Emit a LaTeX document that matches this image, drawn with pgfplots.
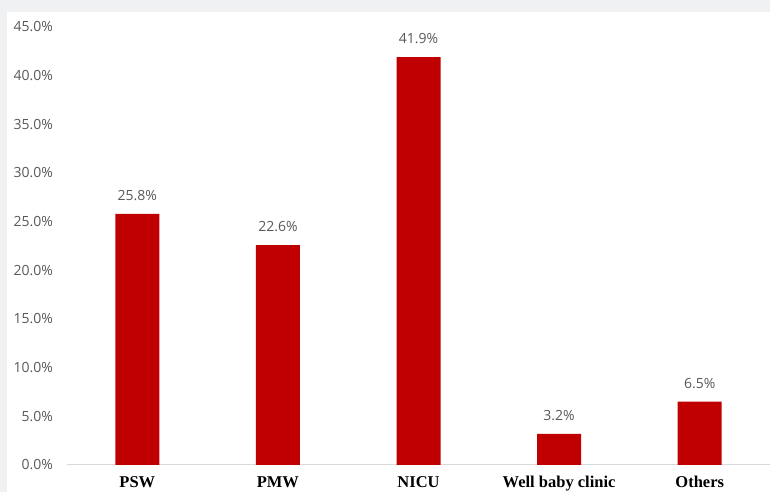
\documentclass[border=0pt]{standalone}
\usepackage{pgfplots}
\pgfplotsset{compat=1.18}
\usepackage{fontspec}
\setmainfont{Open Sans}
\newfontfamily\serifb{Liberation Serif}
\definecolor{barred}{HTML}{C00000}
\definecolor{txtgray}{HTML}{595959}
\definecolor{bggray}{HTML}{F0F1F3}
\definecolor{axgray}{HTML}{D9D9D9}
\begin{document}
\begin{tikzpicture}[x=1pt,y=1pt]
\useasboundingbox (0,0) rectangle (770,492);
\fill[bggray] (0,0) rectangle (770,492);
\fill[white] (7,0) rectangle (770,480);
\begin{axis}[
  at={(67pt,27pt)}, anchor=south west,
  width=703pt, height=438pt, scale only axis,
  xmin=-0.5, xmax=4.5, ymin=0, ymax=45,
  /pgf/number format/assume math mode=true,
  axis x line*=bottom, axis y line*=left,
  y axis line style={draw=none},
  x axis line style={draw=axgray, line width=1pt, -},
  major tick length=0pt,
  ytick={0,5,...,45},
  yticklabel={\pgfmathprintnumber[fixed,fixed zerofill,precision=1]{\tick}\%},
  yticklabel style={font=\fontsize{14}{14}\selectfont, text=txtgray, inner sep=0pt, anchor=east, xshift=-14pt},
  xtick={0,1,2,3,4},
  xticklabels={PSW,PMW,NICU,Well baby clinic,Others},
  xticklabel style={font=\serifb\bfseries\fontsize{16.5}{16.5}\selectfont, text=black, inner sep=0pt, anchor=north, yshift=-11pt},
  clip=false,
  ybar, bar width=44pt, bar shift=0pt,
  nodes near coords={\pgfmathprintnumber[fixed,fixed zerofill,precision=1]{\pgfplotspointmeta}\%},
  every node near coord/.append style={font=\fontsize{14}{14}\selectfont, text=txtgray, inner sep=0pt, anchor=south, yshift=13pt},
]
\addplot[fill=barred, draw=none] coordinates {(0,25.8) (1,22.6) (2,41.9) (3,3.2) (4,6.5)};
\end{axis}
\end{tikzpicture}
\end{document}
